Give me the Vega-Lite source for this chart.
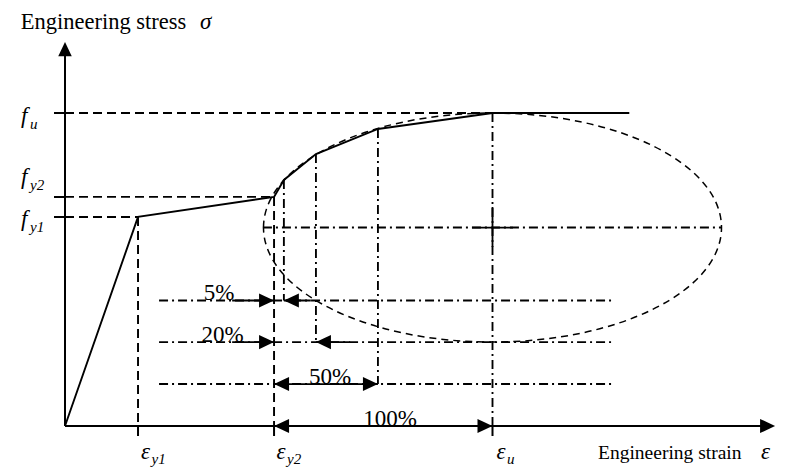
{
  "$schema": "https://vega.github.io/schema/vega-lite/v6.json",
  "width": 797,
  "height": 467,
  "autosize": {"type": "fit", "contains": "padding"},
  "padding": 0,
  "background": "white",
  "config": {"view": {"stroke": null}},
  "datasets": {
    "segments": [
      {"x": 0, "y": 0, "x2": 0, "y2": 118.8, "role": "axis"},
      {"x": 0, "y": 0, "x2": 164, "y2": 0, "role": "axis"},
      {"x": -2.57, "y": 100, "x2": 0, "y2": 100, "role": "axis"},
      {"x": -2.57, "y": 73.2, "x2": 0, "y2": 73.2, "role": "axis"},
      {"x": -2.57, "y": 66.8, "x2": 0, "y2": 66.8, "role": "axis"},
      {"x": 17.08, "y": 0, "x2": 17.08, "y2": -3.19, "role": "axis"},
      {"x": 48.9, "y": 0, "x2": 48.9, "y2": -3.19, "role": "axis"},
      {"x": 100, "y": 0, "x2": 100, "y2": -3.19, "role": "axis"},
      {"x": 0, "y": 100, "x2": 100, "y2": 100, "role": "projection"},
      {"x": 0, "y": 73.2, "x2": 48.9, "y2": 73.2, "role": "projection"},
      {"x": 0, "y": 66.8, "x2": 17.08, "y2": 66.8, "role": "projection"},
      {"x": 17.08, "y": 66.8, "x2": 17.08, "y2": 0, "role": "projection"},
      {"x": 48.9, "y": 73.2, "x2": 48.9, "y2": 0, "role": "projection"},
      {"x": 51.2, "y": 78.6, "x2": 51.2, "y2": 40.1, "role": "centreline"},
      {"x": 58.7, "y": 86.9, "x2": 58.7, "y2": 26.8, "role": "centreline"},
      {"x": 73.2, "y": 94.9, "x2": 73.2, "y2": 13.4, "role": "centreline"},
      {"x": 100, "y": 100, "x2": 100, "y2": 0, "role": "centreline"},
      {"x": 46.3, "y": 63.4, "x2": 153.5, "y2": 63.4, "role": "centreline"},
      {"x": 22, "y": 40.1, "x2": 128, "y2": 40.1, "role": "centreline"},
      {"x": 22, "y": 26.8, "x2": 128, "y2": 26.8, "role": "centreline"},
      {"x": 22, "y": 13.4, "x2": 128, "y2": 13.4, "role": "centreline"},
      {"x": 39.1, "y": 40.1, "x2": 48.9, "y2": 40.1, "role": "dimension"},
      {"x": 51.2, "y": 40.1, "x2": 57.5, "y2": 40.1, "role": "dimension"},
      {"x": 39.1, "y": 26.8, "x2": 48.9, "y2": 26.8, "role": "dimension"},
      {"x": 58.7, "y": 26.8, "x2": 66.7, "y2": 26.8, "role": "dimension"},
      {"x": 48.9, "y": 13.4, "x2": 73.2, "y2": 13.4, "role": "dimension"},
      {"x": 95.2, "y": 63.4, "x2": 104.8, "y2": 63.4, "role": "dimension"},
      {"x": 100, "y": 70, "x2": 100, "y2": 57.2, "role": "dimension"}
    ],
    "curve": [
      {"strain": 0, "stress": 0},
      {"strain": 17.08, "stress": 66.8},
      {"strain": 48.9, "stress": 73.2},
      {"strain": 51.2, "stress": 78.6},
      {"strain": 58.7, "stress": 86.9},
      {"strain": 73.2, "stress": 94.9},
      {"strain": 100, "stress": 100},
      {"strain": 132, "stress": 100}
    ],
    "ellipse": [{"x": 100, "y": 63.4}],
    "arrows": [
      {"x": 0, "y": 122.7, "dir": "up"},
      {"x": 166.1, "y": 0, "dir": "right"},
      {"x": 48.9, "y": 40.1, "dir": "right"},
      {"x": 51.2, "y": 40.1, "dir": "left"},
      {"x": 48.9, "y": 26.8, "dir": "right"},
      {"x": 58.7, "y": 26.8, "dir": "left"},
      {"x": 48.9, "y": 13.4, "dir": "left"},
      {"x": 73.2, "y": 13.4, "dir": "right"},
      {"x": 48.9, "y": 0, "dir": "left"},
      {"x": 100, "y": 0, "dir": "right"}
    ],
    "symbols": [
      {"x": -10.29, "y": 96.8, "main": "f", "sub": "u"},
      {"x": -10.29, "y": 77.3, "main": "f", "sub": "y2"},
      {"x": -10.29, "y": 63.9, "main": "f", "sub": "y1"},
      {"x": 17.78, "y": -10.54, "main": "ε", "sub": "y1"},
      {"x": 49.47, "y": -10.54, "main": "ε", "sub": "y2"},
      {"x": 100.94, "y": -10.54, "main": "ε", "sub": "u"}
    ],
    "percents": [
      {"x": 36.02, "y": 40.1, "label": "5%"},
      {"x": 36.84, "y": 26.8, "label": "20%"},
      {"x": 62.0, "y": 13.4, "label": "50%"},
      {"x": 76.02, "y": 0, "label": "100%"}
    ],
    "titles": [
      {"x": -10.36, "y": 126.84, "label": "Engineering stress", "size": "large"},
      {"x": 124.68, "y": -10.54, "label": "Engineering strain", "size": "small"}
    ],
    "titleSymbols": [
      {"x": 31.58, "y": 126.84, "label": "σ"},
      {"x": 162.8, "y": -10.54, "label": "ε"}
    ]
  },
  "layer": [
    {
      "data": {"name": "segments"},
      "mark": {"type": "rule", "color": "black", "strokeCap": "butt"},
      "encoding": {
        "x": {"field": "x", "type": "quantitative", "scale": {"domain": [-15.205, 171.228], "nice": false, "zero": false}, "axis": null},
        "y": {"field": "y", "type": "quantitative", "scale": {"domain": [-13.1, 136.1], "nice": false, "zero": false}, "axis": null},
        "x2": {"field": "x2"},
        "y2": {"field": "y2"},
        "strokeDash": {
          "field": "role", "type": "nominal", "legend": null,
          "scale": {"domain": ["axis", "projection", "centreline", "dimension"], "range": [[1, 0], [9, 5], [9, 4, 2, 4], [1, 0]]}
        },
        "strokeWidth": {
          "field": "role", "type": "nominal", "legend": null,
          "scale": {"domain": ["axis", "projection", "centreline", "dimension"], "range": [2, 1.8, 1.8, 1.8]}
        }
      }
    },
    {
      "data": {"name": "ellipse"},
      "mark": {
        "type": "point", "filled": false, "opacity": 1, "color": "black", "strokeWidth": 1.5, "strokeDash": [7, 5],
        "shape": "M-1,0C-1,-0.2761,-0.5523,-0.5,0,-0.5C0.5523,-0.5,1,-0.2761,1,0C1,0.2761,0.5523,0.5,0,0.5C-0.5523,0.5,-1,0.2761,-1,0Z",
        "size": 209764
      },
      "encoding": {
        "x": {"field": "x", "type": "quantitative"},
        "y": {"field": "y", "type": "quantitative"}
      }
    },
    {
      "data": {"name": "curve"},
      "mark": {"type": "line", "color": "black", "strokeWidth": 1.9},
      "encoding": {
        "x": {"field": "strain", "type": "quantitative"},
        "y": {"field": "stress", "type": "quantitative"}
      }
    },
    {
      "data": {"name": "arrows"},
      "mark": {"type": "point", "filled": true, "opacity": 1, "color": "black", "strokeWidth": 0, "size": 900},
      "encoding": {
        "x": {"field": "x", "type": "quantitative"},
        "y": {"field": "y", "type": "quantitative"},
        "shape": {
          "field": "dir", "type": "nominal", "legend": null,
          "scale": {"domain": ["right", "left", "up"], "range": ["M0,0L-1,-0.47L-1,0.47Z", "M0,0L1,-0.47L1,0.47Z", "M0,0L-0.45,0.95L0.45,0.95Z"]}
        }
      }
    },
    {
      "data": {"name": "percents"},
      "mark": {"type": "text", "font": "Liberation Serif", "fontSize": 23, "align": "center", "baseline": "alphabetic", "color": "black"},
      "encoding": {
        "x": {"field": "x", "type": "quantitative"},
        "y": {"field": "y", "type": "quantitative"},
        "text": {"field": "label"}
      }
    },
    {
      "data": {"name": "symbols"},
      "mark": {"type": "text", "font": "Liberation Serif", "fontSize": 23, "fontStyle": "italic", "align": "left", "baseline": "alphabetic", "color": "black"},
      "encoding": {
        "x": {"field": "x", "type": "quantitative"},
        "y": {"field": "y", "type": "quantitative"},
        "text": {"field": "main"}
      }
    },
    {
      "data": {"name": "symbols"},
      "transform": [{"filter": "datum.main === 'f'"}],
      "mark": {"type": "text", "font": "Liberation Serif", "fontSize": 15, "fontStyle": "italic", "align": "left", "baseline": "alphabetic", "color": "black", "dx": 9, "dy": 6},
      "encoding": {
        "x": {"field": "x", "type": "quantitative"},
        "y": {"field": "y", "type": "quantitative"},
        "text": {"field": "sub"}
      }
    },
    {
      "data": {"name": "symbols"},
      "transform": [{"filter": "datum.main !== 'f'"}],
      "mark": {"type": "text", "font": "Liberation Serif", "fontSize": 15, "fontStyle": "italic", "align": "left", "baseline": "alphabetic", "color": "black", "dx": 10.5, "dy": 5},
      "encoding": {
        "x": {"field": "x", "type": "quantitative"},
        "y": {"field": "y", "type": "quantitative"},
        "text": {"field": "sub"}
      }
    },
    {
      "data": {"name": "titles"},
      "mark": {"type": "text", "font": "Liberation Serif", "align": "left", "baseline": "alphabetic", "color": "black"},
      "encoding": {
        "x": {"field": "x", "type": "quantitative"},
        "y": {"field": "y", "type": "quantitative"},
        "text": {"field": "label"},
        "size": {"field": "size", "type": "nominal", "legend": null, "scale": {"domain": ["large", "small"], "range": [22.5, 19.5]}}
      }
    },
    {
      "data": {"name": "titleSymbols"},
      "mark": {"type": "text", "font": "Liberation Serif", "fontSize": 23, "fontStyle": "italic", "align": "left", "baseline": "alphabetic", "color": "black"},
      "encoding": {
        "x": {"field": "x", "type": "quantitative"},
        "y": {"field": "y", "type": "quantitative"},
        "text": {"field": "label"}
      }
    }
  ]
}
